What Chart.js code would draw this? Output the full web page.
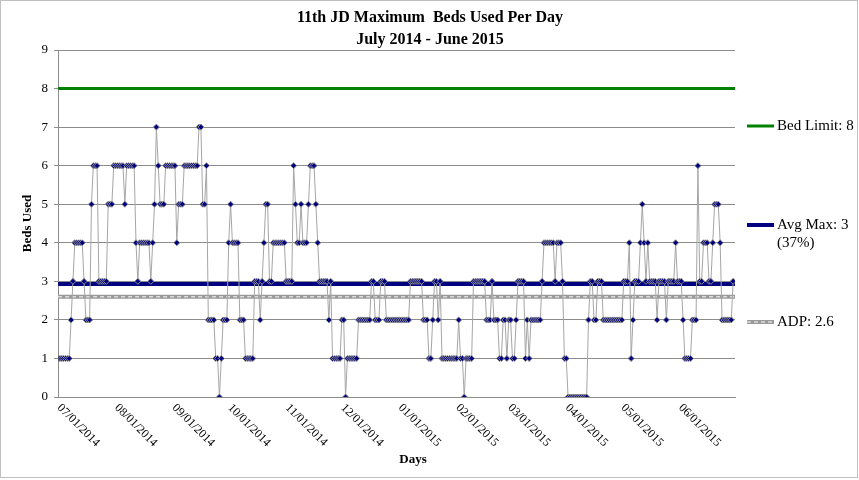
<!DOCTYPE html>
<html>
<head>
<meta charset="utf-8">
<script src="https://cdn.jsdelivr.net/npm/chart.js@4.4.0/dist/chart.umd.min.js"></script>
<style>
    html, body { margin: 0; padding: 0; background: #fff; }
</style>
</head>
<body>
<canvas id="grafico" width="859" height="480"></canvas>
<script>
// maximo de leitos usados por dia, um array por mes
var jul2014 = [1,1,1,1,1,1,1,2,3,4,4,4,4,4,3,2,2,2,5,6,6,6,3,3,3,3,3,5,5,5,6],
    aug2014 = [6,6,6,6,6,5,6,6,6,6,6,4,3,4,4,4,4,4,4,3,4,5,7,6,5,5,5,6,6,6,6],
    sep2014 = [6,6,4,5,5,5,6,6,6,6,6,6,6,6,7,7,5,5,6,2,2,2,2,1,1,0,1,2,2,2],
    oct2014 = [4,5,4,4,4,4,2,2,2,1,1,1,1,1,3,3,3,2,3,4,5,5,3,3,4,4,4,4,4,4,4],
    nov2014 = [3,3,3,3,6,5,4,4,5,4,4,4,5,6,6,6,5,4,3,3,3,3,3,2,3,1,1,1,1,1],
    dec2014 = [2,2,0,1,1,1,1,1,1,2,2,2,2,2,2,2,3,3,2,2,2,3,3,3,2,2,2,2,2,2,2],
    jan2015 = [2,2,2,2,2,2,3,3,3,3,3,3,3,2,2,2,1,1,2,3,3,2,3,1,1,1,1,1,1,1,1],
    feb2015 = [1,2,1,1,0,1,1,1,1,3,3,3,3,3,3,3,2,2,2,3,2,2,2,1,1,2,2,1],
    mar2015 = [2,2,1,1,2,3,3,3,3,1,2,1,2,2,2,2,2,2,3,4,4,4,4,4,4,3,4,4,4,3,1],
    apr2015 = [1,0,0,0,0,0,0,0,0,0,0,0,2,3,3,2,2,3,3,3,2,2,2,2,2,2,2,2,2,2],
    may2015 = [2,3,3,3,4,1,2,3,3,3,4,5,4,3,4,3,3,3,3,2,3,3,3,3,2,3,3,3,3,4,3],
    jun2015 = [3,3,2,1,1,1,1,2,2,2,6,3,3,4,4,4,3,3,4,5,5,5,4,2,2,2,2,2,2,3];

var bedsUsed = [].concat(jul2014, aug2014, sep2014, oct2014, nov2014, dec2014,
                         jan2015, feb2015, mar2015, apr2015, may2015, jun2015);

// linhas de referencia
var bedLimit = 8,
    avgMax = 2.93,
    adp = 2.6;

// dia (a partir de 07/01/2014) onde cada mes comeca, e o rotulo
var monthStartDays = [0, 31, 62, 92, 123, 153, 184, 215, 243, 274, 304, 335];
var monthLabels = ['07/01/2014', '08/01/2014', '09/01/2014', '10/01/2014', '11/01/2014', '12/01/2014',
                   '01/01/2015', '02/01/2015', '03/01/2015', '04/01/2015', '05/01/2015', '06/01/2015'];
var lastDay = 365;

var titleLines = ['11th JD Maximum  Beds Used Per Day', 'July 2014 - June 2015'];
var legendItems = ['Bed Limit: 8', 'Avg Max: 3', 'ADP: 2.6'];

var serif = 'Liberation Serif';

function linhaHorizontal(valor) {
    return [{x: 0, y: valor}, {x: lastDay, y: valor}];
}

var extras = {
    id: 'extras',
    beforeDraw: function (chart) {
        var ctx = chart.ctx;
        ctx.save();
        ctx.fillStyle = '#fff';
        ctx.fillRect(0, 0, chart.width, chart.height);
        ctx.restore();
    },
    afterDraw: function (chart) {
        var ctx = chart.ctx,
            xs = chart.scales.x,
            area = chart.chartArea;

        ctx.save();
        ctx.fillStyle = '#000';

        // titulo, centrado na figura toda
        ctx.font = 'bold 16px "' + serif + '"';
        ctx.textAlign = 'center';
        ctx.textBaseline = 'middle';
        ctx.fillText(titleLines[0], 430, 18);
        ctx.fillText(titleLines[1], 430, 40);

        // titulo do eixo x
        ctx.font = 'bold 13px "' + serif + '"';
        ctx.fillText('Days', 413, 460);

        // rotulos do eixo x, inclinados para baixo
        ctx.font = '12px "' + serif + '"';
        ctx.textAlign = 'left';
        for (var i = 0; i < monthStartDays.length; i++) {
            var px = xs.getPixelForValue(monthStartDays[i]);
            ctx.save();
            ctx.translate(px + 1, area.bottom + 9);
            ctx.rotate(Math.PI / 4);
            ctx.fillText(monthLabels[i], 0, 0);
            ctx.restore();
        }

        // legenda a direita
        var lx = 747, le = 774, tx = 777;
        ctx.font = '15px "' + serif + '"';
        ctx.lineCap = 'butt';

        ctx.strokeStyle = '#008000';
        ctx.lineWidth = 3;
        ctx.beginPath(); ctx.moveTo(lx, 126); ctx.lineTo(le, 126); ctx.stroke();
        ctx.fillText(legendItems[0], tx, 126);

        ctx.strokeStyle = '#000080';
        ctx.lineWidth = 4;
        ctx.beginPath(); ctx.moveTo(lx, 225); ctx.lineTo(le, 225); ctx.stroke();
        ctx.fillText(legendItems[1], tx, 225);
        ctx.fillText('(37%)', tx, 243);

        ctx.strokeStyle = '#999999';
        ctx.lineWidth = 4;
        ctx.beginPath(); ctx.moveTo(lx, 322); ctx.lineTo(le, 322); ctx.stroke();
        ctx.strokeStyle = '#dcdcdc';
        ctx.lineWidth = 1.5;
        ctx.setLineDash([4, 3]);
        ctx.beginPath(); ctx.moveTo(lx, 322); ctx.lineTo(le, 322); ctx.stroke();
        ctx.setLineDash([]);
        ctx.fillText(legendItems[2], tx, 322);

        // moldura
        ctx.strokeStyle = '#c0c0c0';
        ctx.lineWidth = 1;
        ctx.strokeRect(0.5, 0.5, chart.width - 2, chart.height - 3);
        ctx.restore();
    }
};

var config = {
    type: 'line',
    data: {
        datasets: [{
            label: 'Beds Used',
            data: bedsUsed.map(function (v, i) { return {x: i, y: v}; }),
            borderColor: '#a6a6a6',
            borderWidth: 1,
            pointStyle: 'rectRot',
            pointRadius: 3,
            pointBackgroundColor: '#000080',
            pointBorderColor: '#8c8c8c',
            pointBorderWidth: 1,
            tension: 0,
            order: 0
        }, {
            label: 'ADP',
            data: linhaHorizontal(adp),
            borderColor: '#dcdcdc',
            borderWidth: 1.5,
            borderDash: [4, 3],
            pointRadius: 0,
            order: 1
        }, {
            label: 'ADP base',
            data: linhaHorizontal(adp),
            borderColor: '#999999',
            borderWidth: 4,
            pointRadius: 0,
            order: 2
        }, {
            label: 'Avg Max',
            data: linhaHorizontal(avgMax),
            borderColor: '#000080',
            borderWidth: 4,
            pointRadius: 0,
            order: 3
        }, {
            label: 'Bed Limit',
            data: linhaHorizontal(bedLimit),
            borderColor: '#008000',
            borderWidth: 3,
            pointRadius: 0,
            order: 4
        }]
    },
    options: {
        responsive: false,
        devicePixelRatio: 1,
        animation: false,
        layout: {
            padding: {left: 10, right: 124, top: 50, bottom: 75}
        },
        plugins: {
            legend: { display: false },
            tooltip: { enabled: false },
            title: { display: false }
        },
        scales: {
            x: {
                type: 'linear',
                min: 0,
                max: lastDay,
                grid: { display: false },
                border: { color: '#8c8c8c' },
                ticks: { display: false }
            },
            y: {
                min: 0,
                max: 9,
                ticks: {
                    stepSize: 1,
                    color: '#000',
                    padding: 6,
                    font: {family: serif, size: 13}
                },
                grid: { color: '#8c8c8c', tickLength: 4 },
                border: { color: '#8c8c8c' },
                title: {
                    display: true,
                    text: 'Beds Used',
                    color: '#000',
                    font: {family: serif, size: 13, weight: 'bold'},
                    padding: {top: 10, bottom: 0}
                }
            }
        }
    },
    plugins: [extras]
};

var grafico = new Chart(document.getElementById('grafico').getContext('2d'), config);
</script>
</body>
</html>
